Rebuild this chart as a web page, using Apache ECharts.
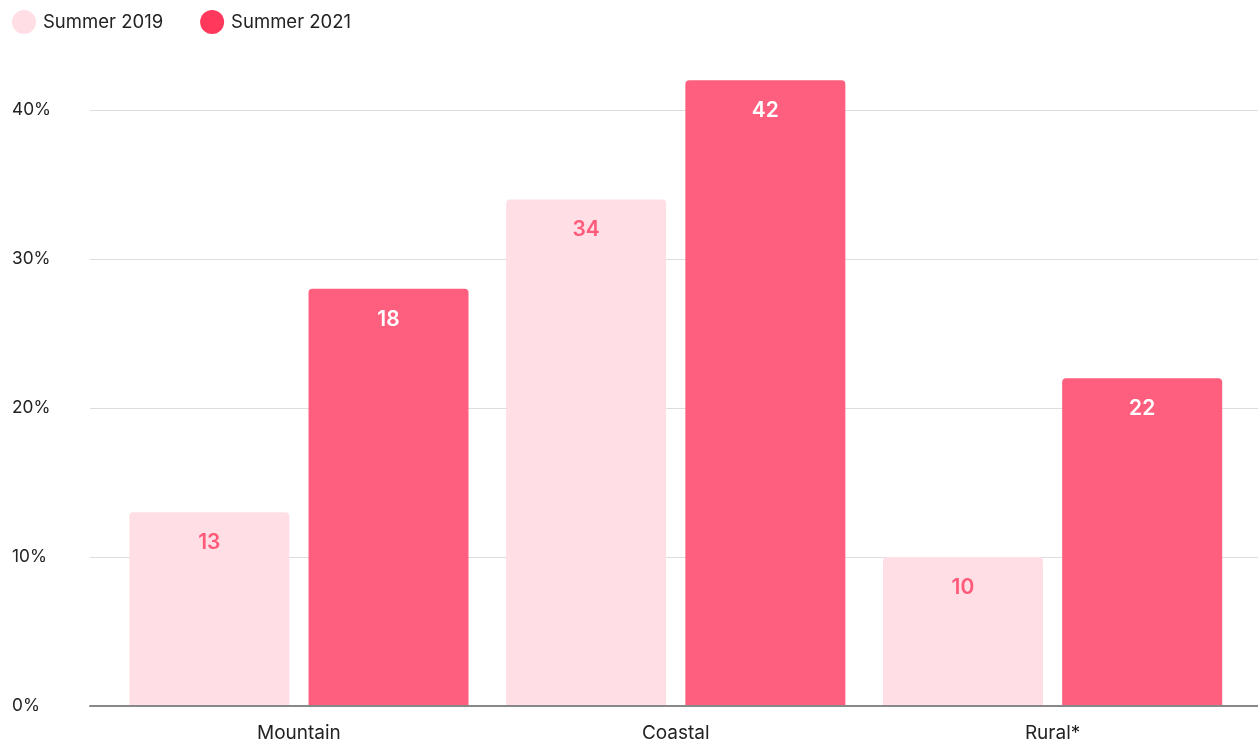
<!DOCTYPE html>
<html>
<head>
<meta charset="utf-8">
<script src="https://cdn.jsdelivr.net/npm/echarts@6/dist/echarts.min.js"></script>
<style>
html,body{margin:0;padding:0;background:#fff;}
#chart{width:1258px;height:744px;}
</style>
</head>
<body>
<div id="chart"></div>
<script>
const categories = ['Mountain', 'Coastal', 'Rural*'];
const seriesNames = ['Summer 2019', 'Summer 2021'];
const values2019 = [13, 34, 10];
const values2021 = [28, 42, 22];
const labels2019 = ['13', '34', '10'];
const labels2021 = ['18', '42', '22'];
const yTicks = [0, 10, 20, 30, 40];

const font = 'Inter, "Noto Sans", sans-serif';
const chart = echarts.init(document.getElementById('chart'));
const gridTop = 35.5, gridBottom = 38;

chart.setOption({
  animation: false,
  textStyle: { fontFamily: font },
  legend: {
    left: 12, top: 10, padding: 0,
    icon: 'circle', itemWidth: 24, itemHeight: 24, itemGap: 37,
    textStyle: { fontSize: 18.5, color: '#222', fontFamily: font, padding: [0, 0, 0, 2] },
    data: [
      { name: seriesNames[0], itemStyle: { color: '#ffdfe5' } },
      { name: seriesNames[1], itemStyle: { color: '#ff385c' } }
    ]
  },
  grid: [
    { left: 90, right: 0, top: gridTop, bottom: gridBottom },
    { left: 110.5, right: 17, top: gridTop, bottom: gridBottom }
  ],
  xAxis: [
    { gridIndex: 0, type: 'category', data: [''], axisLine: { show: true, lineStyle: { color: '#888', width: 2 } },
      axisTick: { show: false }, axisLabel: { show: false }, z: 10 },
    { gridIndex: 1, type: 'category', data: categories, axisLine: { show: false }, axisTick: { show: false },
      axisLabel: { fontSize: 19, color: '#222', margin: 18, fontFamily: font } }
  ],
  yAxis: [
    { gridIndex: 0, type: 'value', min: 0, max: 45, interval: 10,
      axisLabel: { formatter: v => yTicks.includes(v) ? v + '%' : '', showMaxLabel: false, align: 'left', margin: 78, fontSize: 17.3, color: '#222', fontFamily: font },
      splitLine: { show: true, showMaxLine: false, showMinLine: false, lineStyle: { color: '#dddddd', width: 1 } },
      axisLine: { show: false }, axisTick: { show: false } },
    { gridIndex: 1, type: 'value', min: 0, max: 45, interval: 10, show: false, splitLine: { show: false } }
  ],
  series: [
    { name: seriesNames[0], type: 'bar', xAxisIndex: 1, yAxisIndex: 1, data: values2019,
      barWidth: 160, barGap: '12%',
      itemStyle: { color: '#ffdfe5', borderRadius: [4, 4, 0, 0] },
      label: { show: true, position: 'insideTop', distance: 20, fontSize: 21, fontWeight: 600, color: '#ff5a7a', fontFamily: font,
        formatter: p => labels2019[p.dataIndex] } },
    { name: seriesNames[1], type: 'bar', xAxisIndex: 1, yAxisIndex: 1, data: values2021,
      barWidth: 160, barGap: '12%',
      itemStyle: { color: '#ff5f7e', borderRadius: [4, 4, 0, 0] },
      label: { show: true, position: 'insideTop', distance: 20, fontSize: 21, fontWeight: 600, color: '#ffffff', fontFamily: font,
        formatter: p => labels2021[p.dataIndex] } }
  ]
});
</script>
</body>
</html>
